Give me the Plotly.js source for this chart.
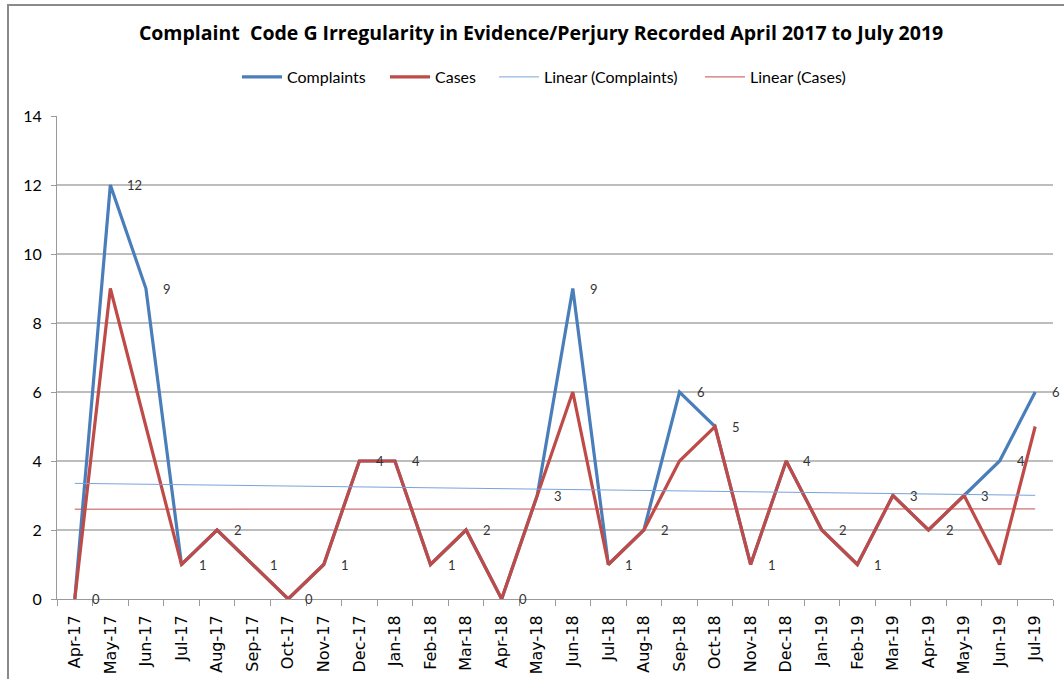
<!DOCTYPE html>
<html>
<head>
<meta charset="utf-8">
<script src="https://cdn.plot.ly/plotly-3.0.1.min.js"></script>
<style>
  html, body { margin: 0; padding: 0; background: #ffffff; overflow: hidden; }
  #chart { position: absolute; left: 0; top: 0; width: 1064px; height: 679px; }
  #frame { position: absolute; left: 7px; top: 4px; width: 1100px; height: 720px;
           border: 2px solid #8a8a8a; pointer-events: none; box-sizing: border-box; }
</style>
</head>
<body>
<div id="chart"></div>
<div id="frame"></div>
<script>
const months = ["Apr-17","May-17","Jun-17","Jul-17","Aug-17","Sep-17","Oct-17","Nov-17","Dec-17",
  "Jan-18","Feb-18","Mar-18","Apr-18","May-18","Jun-18","Jul-18","Aug-18","Sep-18","Oct-18",
  "Nov-18","Dec-18","Jan-19","Feb-19","Mar-19","Apr-19","May-19","Jun-19","Jul-19"];
const complaints = [0,12,9,1,2,1,0,1,4,4,1,2,0,3,9,1,2,6,5,1,4,2,1,3,2,3,4,6];
const cases      = [0,9,5,1,2,1,0,1,4,4,1,2,0,3,6,1,2,4,5,1,4,2,1,3,2,3,1,5];
const yTicks = [0,2,4,6,8,10,12,14];

// Least-squares linear trend (as the spreadsheet's "Linear" trendline)
function linearTrend(vals) {
  const n = vals.length;
  let sx = 0, sy = 0, sxy = 0, sxx = 0;
  for (let i = 0; i < n; i++) { sx += i; sy += vals[i]; sxy += i * vals[i]; sxx += i * i; }
  const slope = (n * sxy - sx * sy) / (n * sxx - sx * sx);
  const icpt = (sy - slope * sx) / n;
  return vals.map((v, i) => icpt + slope * i);
}

const blue = '#4A7EBB', red = '#BE4B48';

const traces = [
  { x: months, y: complaints, name: 'Complaints', type: 'scatter', mode: 'lines',
    line: { color: blue, width: 3.2 }, legend: 'legend' },
  { x: months, y: cases, name: 'Cases', type: 'scatter', mode: 'lines',
    line: { color: red, width: 3.2 }, legend: 'legend2' },
  { x: months, y: linearTrend(complaints), name: 'Linear (Complaints)', type: 'scatter', mode: 'lines',
    line: { color: '#7AA3D8', width: 1 }, legend: 'legend3' },
  { x: months, y: linearTrend(cases), name: 'Linear (Cases)', type: 'scatter', mode: 'lines',
    line: { color: '#C0504D', width: 1 }, legend: 'legend4' }
];

const annotations = complaints.map((v, i) => ({
  x: months[i], y: v, xref: 'x', yref: 'y', text: String(v), showarrow: false,
  xanchor: 'left', yanchor: 'middle', xshift: 15,
  font: { family: 'Lato, sans-serif', size: 13, color: '#333333' }
}));

function legendAt(px) {
  return { orientation: 'h', x: px / 1064, xref: 'container', xanchor: 'left',
    y: 1 - 77 / 679, yref: 'container', yanchor: 'middle', itemwidth: 40,
    bgcolor: 'rgba(0,0,0,0)', borderwidth: 0,
    font: { family: 'Lato, sans-serif', size: 16, color: '#000000' } };
}

const layout = {
  width: 1064, height: 679,
  margin: { l: 57, r: 11, t: 116, b: 80 },
  paper_bgcolor: 'rgba(0,0,0,0)', plot_bgcolor: 'rgba(0,0,0,0)',
  showlegend: true,
  title: { text: 'Complaint  Code G Irregularity in Evidence/Perjury Recorded April 2017 to July 2019',
    x: 0.5085, xref: 'container', xanchor: 'center', y: 1 - 33 / 679, yref: 'container', yanchor: 'middle',
    font: { family: 'Open Sans, sans-serif', size: 19.5, color: '#000000', weight: 'bold' } },
  legend: legendAt(237),
  legend2: legendAt(385),
  legend3: legendAt(494),
  legend4: legendAt(700),
  xaxis: { type: 'category', categoryorder: 'array', categoryarray: months,
    tickangle: -90, ticks: 'outside', tickson: 'boundaries', ticklen: 6, tickcolor: '#9a9a9a',
    showline: true, linecolor: '#9a9a9a', linewidth: 1, showgrid: false, zeroline: false,
    ticklabelstandoff: 9,
    tickfont: { family: 'DejaVu Sans, sans-serif', size: 16, color: '#000000' },
    range: [-0.5, months.length - 0.5], fixedrange: true },
  yaxis: { range: [0, 14], tickvals: yTicks, ticks: 'outside', ticklen: 5, tickcolor: '#9a9a9a',
    showline: true, linecolor: '#9a9a9a', linewidth: 1, showgrid: true, gridcolor: '#bdbdbd', gridwidth: 1.5,
    zeroline: false, ticklabelstandoff: 6,
    tickfont: { family: 'Lato, sans-serif', size: 16, color: '#000000' }, fixedrange: true },
  annotations: annotations
};

Plotly.newPlot('chart', traces, layout, { displayModeBar: false, staticPlot: true });
</script>
</body>
</html>
